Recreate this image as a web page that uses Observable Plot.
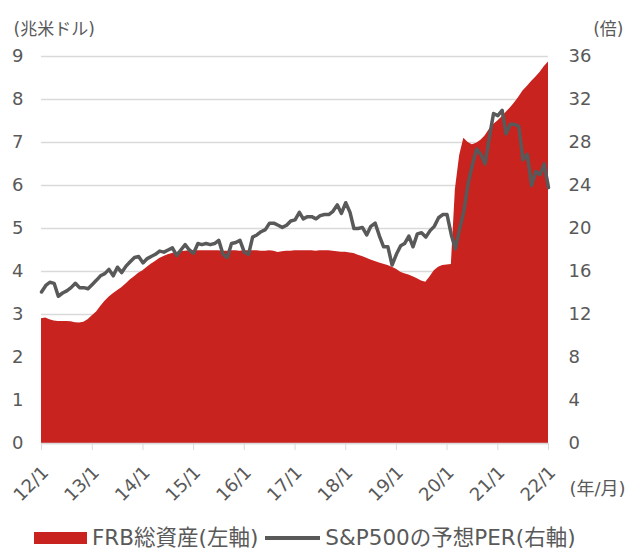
<!DOCTYPE html>
<html>
<head>
<meta charset="utf-8">
<script src="https://cdn.jsdelivr.net/npm/d3@7"></script>
<script src="https://cdn.jsdelivr.net/npm/@observablehq/plot@0.6"></script>
<style>
  html, body { margin: 0; padding: 0; background: #fff; }
  #wrap { position: relative; width: 626px; height: 551px; font-family: 'DejaVu Sans', 'Noto Sans CJK JP', sans-serif; color: #595959; }
  #legend { position: absolute; left: 0; top: 526px; height: 24px; display: flex; align-items: center; font-size: 21.5px; line-height: 24px; white-space: nowrap; }
  .sw { display: inline-block; }
</style>
</head>
<body>
<div id="wrap">
  <div id="chart"></div>
  <div id="legend">
    <span class="sw" style="margin-left:34px;width:53px;height:12px;background:#c8231f"></span>
    <span style="margin-left:5px">FRB総資産(左軸)</span>
    <span class="sw" style="margin-left:7px;width:55px;height:4px;background:#595959"></span>
    <span style="margin-left:5px">S&amp;P500の予想PER(右軸)</span>
  </div>
</div>
<script>
// Monthly observations, 2012/1 .. 2022/1
const startMonth = "2012-01-01";
const frbAssets = [ // 兆米ドル (left axis)
  2.90, 2.92, 2.88, 2.85, 2.84, 2.84, 2.84, 2.83, 2.81, 2.80, 2.82, 2.88,
  2.97, 3.06, 3.18, 3.30, 3.40, 3.48, 3.55, 3.62, 3.71, 3.80, 3.88, 3.96,
  4.02, 4.10, 4.17, 4.23, 4.30, 4.35, 4.39, 4.42, 4.44, 4.46, 4.47, 4.48,
  4.48, 4.48, 4.48, 4.48, 4.48, 4.48, 4.48, 4.47, 4.47, 4.48, 4.48, 4.47,
  4.48, 4.48, 4.48, 4.48, 4.47, 4.47, 4.48, 4.47, 4.44, 4.46, 4.47, 4.47,
  4.48, 4.48, 4.48, 4.48, 4.48, 4.47, 4.48, 4.48, 4.48, 4.47, 4.46, 4.45,
  4.45, 4.43, 4.42, 4.38, 4.35, 4.31, 4.27, 4.23, 4.20, 4.17, 4.14, 4.10,
  4.05, 3.98, 3.95, 3.92, 3.88, 3.83, 3.78, 3.75, 3.88, 4.02, 4.10, 4.14,
  4.15, 4.16, 5.90, 6.70, 7.10, 7.00, 6.95, 6.98, 7.05, 7.15, 7.30, 7.42,
  7.50, 7.60, 7.70, 7.80, 7.92, 8.05, 8.20, 8.30, 8.42, 8.52, 8.63, 8.76,
  8.87
];
const spPER = [ // 倍 (right axis)
  14.1, 14.7, 15.0, 14.9, 13.7, 14.0, 14.2, 14.5, 14.9, 14.5, 14.5, 14.4,
  14.8, 15.2, 15.6, 15.8, 16.2, 15.6, 16.4, 15.9, 16.5, 16.9, 17.3, 17.4,
  16.8, 17.2, 17.4, 17.6, 17.9, 17.8, 18.0, 18.2, 17.5, 18.0, 18.5, 18.0,
  17.7, 18.6, 18.5, 18.6, 18.5, 18.6, 18.9, 17.6, 17.3, 18.6, 18.7, 18.9,
  17.8, 17.6, 19.2, 19.4, 19.7, 19.9, 20.5, 20.5, 20.3, 20.1, 20.3, 20.7,
  20.8, 21.5, 20.9, 21.1, 21.1, 20.9, 21.2, 21.3, 21.3, 21.6, 22.2, 21.4,
  22.4, 21.5, 20.0, 20.0, 20.1, 19.4, 20.2, 20.5, 19.3, 18.3, 18.3, 16.6,
  17.6, 18.4, 18.6, 19.3, 18.3, 19.5, 19.6, 19.2, 19.8, 20.2, 21.0, 21.3,
  21.3, 19.4, 18.1, 20.0, 21.6, 24.2, 25.9, 27.4, 26.9, 26.0, 28.5, 30.7,
  30.5, 31.0, 28.8, 29.7, 29.7, 29.5, 26.4, 26.9, 24.0, 25.3, 25.0, 26.0,
  23.8
];
const leftTicks = [0, 1, 2, 3, 4, 5, 6, 7, 8, 9];
const rightTickLabels = ["0", "4", "8", "12", "16", "20", "24", "28", "32", "36"];
const xTickDates = ["2012-01-01","2013-01-01","2014-01-01","2015-01-01","2016-01-01","2017-01-01","2018-01-01","2019-01-01","2020-01-01","2021-01-01","2022-01-01"];
const xTickLabels = ["12/1","13/1","14/1","15/1","16/1","17/1","18/1","19/1","20/1","21/1","22/1"];
const leftTitle = "(兆米ドル)";
const rightTitle = "(倍)";
const xTitle = "(年/月)";

const t0 = new Date(startMonth);
const dates = frbAssets.map((_, i) => d3.utcMonth.offset(t0, i));
const rows = dates.map((date, i) => ({date, frb: frbAssets[i], per: spPER[i]}));
const years = xTickDates.map(s => new Date(s));
const perRatio = 4; // right axis (倍) = left axis × 4

const RED = "#c8231f", GRAY = "#595959", GRID = "#d9d9d9";

const chart = Plot.plot({
  width: 626,
  height: 515,
  marginTop: 56,
  marginBottom: 72,
  marginLeft: 41,
  marginRight: 78,
  style: {fontFamily: "'DejaVu Sans', 'Noto Sans CJK JP', sans-serif", fontSize: "18px", color: GRAY, background: "#fff"},
  x: {type: "utc", domain: [years[0], years[years.length - 1]]},
  y: {domain: [0, 9]},
  marks: [
    Plot.gridY(leftTicks, {stroke: GRID, strokeOpacity: 1, strokeWidth: 1.5}),
    Plot.areaY(rows, {x: "date", y: "frb", fill: RED}),
    Plot.ruleY([0], {stroke: GRID, strokeWidth: 1.5}),
    Plot.axisX({ticks: years, tickSize: 7, tickFormat: () => "", stroke: GRID, label: null}),
    Plot.lineY(rows, {x: "date", y: d => d.per / perRatio, stroke: GRAY, strokeWidth: 3.5, strokeLinejoin: "round"}),
    Plot.axisY({anchor: "left", ticks: leftTicks, tickSize: 0, tickPadding: 18, label: null, fill: GRAY}),
    Plot.axisY({anchor: "right", ticks: leftTicks, tickSize: 0, tickPadding: 20, label: null, fill: GRAY,
      tickFormat: d => rightTickLabels[leftTicks.indexOf(d)]}),
    Plot.text(years, {x: d => d, text: (d, i) => xTickLabels[i], frameAnchor: "bottom", dy: 26, dx: 4,
      rotate: -45, textAnchor: "end", lineAnchor: "middle", fill: GRAY, fontSize: 18}),
    Plot.text([leftTitle], {frameAnchor: "top-left", dx: -28, dy: -22, textAnchor: "start", lineAnchor: "bottom", fill: GRAY, fontSize: 17}),
    Plot.text([rightTitle], {frameAnchor: "top-right", dx: 75, dy: -22, textAnchor: "end", lineAnchor: "bottom", fill: GRAY, fontSize: 17}),
    Plot.text([xTitle], {frameAnchor: "bottom-right", dx: 77, dy: 51, textAnchor: "end", lineAnchor: "bottom", fill: GRAY, fontSize: 18})
  ]
});
document.getElementById("chart").appendChild(chart);
</script>
</body>
</html>
